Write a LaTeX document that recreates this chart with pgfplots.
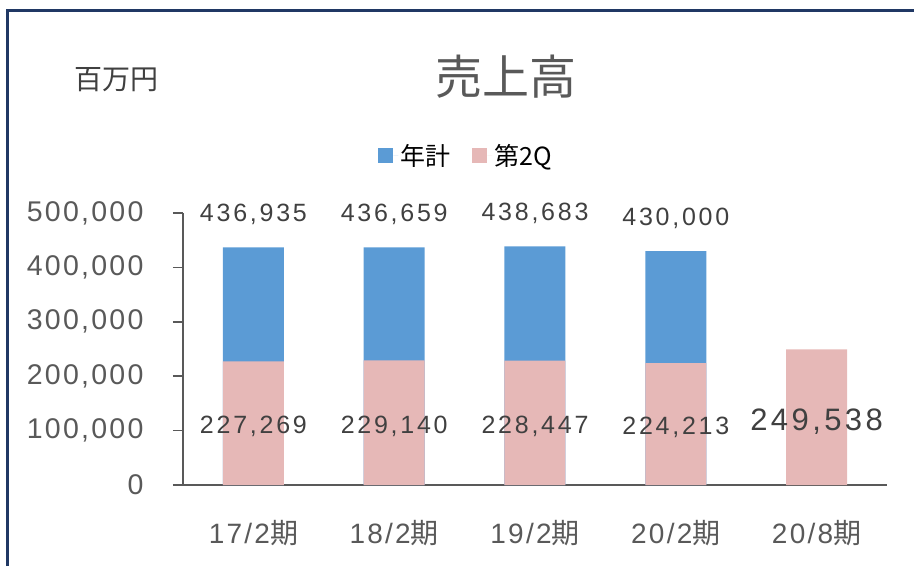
\documentclass[border=0pt]{standalone}
\usepackage{fontspec}
\usepackage{pgfplots}
\pgfplotsset{compat=1.18}
\setmainfont{Liberation Sans}
\newfontfamily\cjk{Noto Sans CJK JP}
\newfontfamily\spaced[LetterSpace=11]{Liberation Sans}
\newfontfamily\spacedt[LetterSpace=8]{Liberation Sans}
\definecolor{blueb}{HTML}{5B9BD5}
\definecolor{pinkb}{HTML}{E6B8B7}
\definecolor{txt}{HTML}{595959}
\definecolor{dark}{HTML}{404040}
\definecolor{framec}{HTML}{203864}
\begin{document}
\begin{tikzpicture}
\useasboundingbox (-183pt,-81pt) rectangle (731pt,485pt);
\begin{axis}[
  at={(0pt,0pt)}, anchor=south west,
  scale only axis, width=704pt, height=272pt,
  xmin=-0.5, xmax=4.5, ymin=0, ymax=500000,
  axis x line*=bottom, axis y line*=left,
  axis line style={draw=txt, line width=1.6pt, -},
  xtick={0,1,2,3,4},
  xticklabels={{17/2{\cjk 期}},{18/2{\cjk 期}},{19/2{\cjk 期}},{20/2{\cjk 期}},{20/8{\cjk 期}}},
  x tick style={draw=none},
  xticklabel style={font=\spacedt\fontsize{28}{28}\selectfont, text=txt, yshift=-22pt},
  ytick={0,100000,200000,300000,400000,500000},
  y tick style={draw=txt, line width=1.6pt},
  major tick length=10pt, tick align=outside,
  yticklabel style={font=\spacedt\fontsize{28.5}{28.5}\selectfont, text=txt, xshift=-26pt},
  scaled y ticks=false,
  /pgf/number format/.cd, fixed, precision=0, 1000 sep={,}, assume math mode=true,
  /pgfplots/.cd,
  ybar, bar width=61pt, bar shift=0pt,
  legend style={at={(0.402,1.21)}, anchor=center, draw=none, fill=none,
    legend columns=2, font=\cjk\fontsize{25}{25}\selectfont,
    /tikz/every even column/.append style={column sep=20pt}},
  legend image code/.code={\fill[#1] (0pt,-7.5pt) rectangle (15pt,7.5pt); \path (15pt,0pt) -- (20pt,0pt);},
  clip=false,
]
\addplot[fill=blueb, draw=none,
  nodes near coords,
  every node near coord/.append style={anchor=center, yshift=33pt,
    font=\spaced\fontsize{25}{25}\selectfont, text=dark}]
  coordinates {(0,436935) (1,436659) (2,438683) (3,430000)};
\addlegendentry{年計}
\addplot[fill=pinkb, draw=none]
  coordinates {(0,227269) (1,229140) (2,228447) (3,224213) (4,249538)};
\addlegendentry{第2Q}
\node[font=\spaced\fontsize{25}{25}\selectfont, text=dark] at (axis cs:0,107000) {227,269};
\node[font=\spaced\fontsize{25}{25}\selectfont, text=dark] at (axis cs:1,107000) {229,140};
\node[font=\spaced\fontsize{25}{25}\selectfont, text=dark] at (axis cs:2,107000) {228,447};
\node[font=\spaced\fontsize{25}{25}\selectfont, text=dark] at (axis cs:3,106000) {224,213};
\node[font=\spaced\fontsize{31}{31}\selectfont, text=dark] at (axis cs:4,116500) {249,538};
\end{axis}
\node[font=\cjk\fontsize{47}{47}\selectfont, text=txt] at (323pt,408pt) {売上高};
\node[font=\cjk\fontsize{28}{28}\selectfont, text=dark] at (-66pt,405pt) {百万円};
\draw[framec, line width=2.5pt] (-175.5pt,-81pt) -- (-175.5pt,474.5pt) -- (731pt,474.5pt);
\end{tikzpicture}
\end{document}
